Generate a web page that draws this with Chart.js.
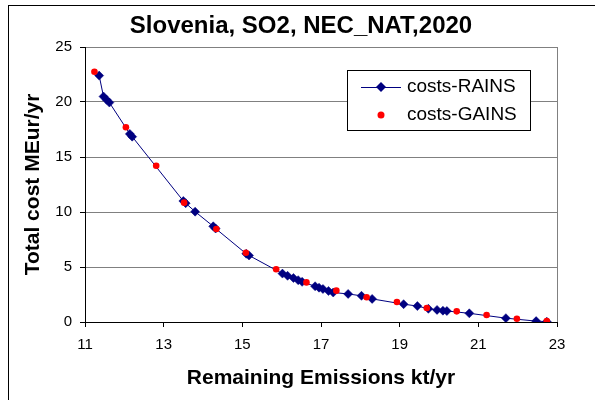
<!DOCTYPE html>
<html>
<head>
<meta charset="utf-8">
<script src="https://cdn.jsdelivr.net/npm/chart.js@4"></script>
<style>
  body { margin: 0; background: #fff; }
</style>
</head>
<body>
<canvas id="costChart" width="595" height="400"></canvas>
<script>
const rainsX = [11.36, 11.47, 11.55, 11.62, 12.14, 12.2, 13.5, 13.56, 13.8, 14.26, 14.32, 15.1, 15.17, 16.02, 16.15, 16.3, 16.42, 16.52, 16.85, 16.95, 17.05, 17.19, 17.31, 17.69, 18.03, 18.3, 19.1, 19.45, 19.73, 19.95, 20.1, 20.2, 20.77, 21.7, 22.47, 22.74];
const rainsY = [22.4, 20.5, 20.2, 19.95, 17.1, 16.85, 11.0, 10.8, 10.03, 8.7, 8.5, 6.2, 6.05, 4.4, 4.2, 4.0, 3.8, 3.65, 3.25, 3.12, 3.0, 2.82, 2.68, 2.55, 2.38, 2.1, 1.62, 1.45, 1.2, 1.1, 1.03, 1.0, 0.79, 0.35, 0.08, 0.03];
const gainsX = [11.24, 12.04, 12.81, 13.52, 14.34, 15.09, 15.86, 16.63, 17.39, 18.16, 18.93, 19.69, 20.45, 21.21, 21.98, 22.74];
const gainsY = [22.75, 17.7, 14.2, 10.85, 8.45, 6.3, 4.8, 3.6, 2.85, 2.25, 1.82, 1.27, 0.97, 0.64, 0.3, 0.08];
const xTicks = [11, 13, 15, 17, 19, 21, 23];
const yTicks = [0, 5, 10, 15, 20, 25];
const seriesNames = ['costs-RAINS', 'costs-GAINS'];

const FONT = "'Liberation Sans', Arial, sans-serif";
const NAVY = '#000080';
const RED = '#ff0000';

// fond blanc + cadre noir
const framePlugin = {
    id: 'frame',
    beforeDraw(chart) {
        const ctx = chart.ctx;
        ctx.save();
        ctx.fillStyle = '#fff';
        ctx.fillRect(0, 0, chart.width, chart.height);
        ctx.strokeStyle = '#000';
        ctx.lineWidth = 1;
        ctx.strokeRect(8.5, 5.5, chart.width, chart.height);
        ctx.restore();
    }
};

// bordure grise droite de la zone
const plotBorder = {
    id: 'plotBorder',
    beforeDatasetsDraw(chart) {
        const {ctx, chartArea} = chart;
        ctx.save();
        ctx.strokeStyle = '#808080';
        ctx.lineWidth = 1;
        ctx.beginPath();
        ctx.moveTo(Math.round(chartArea.right) + 0.5, chartArea.top);
        ctx.lineTo(Math.round(chartArea.right) + 0.5, chartArea.bottom);
        ctx.stroke();
        ctx.restore();
    }
};

// legende dessinee dans la zone
const boxLegend = {
    id: 'boxLegend',
    afterDraw(chart) {
        const ctx = chart.ctx;
        const x0 = 347, y0 = 70, w = 183, h = 60;
        ctx.save();
        ctx.fillStyle = '#fff';
        ctx.fillRect(x0, y0, w, h);
        ctx.strokeStyle = '#000';
        ctx.lineWidth = 1;
        ctx.strokeRect(x0 + 0.5, y0 + 0.5, w, h);

        // ligne + losange
        const ly = 87;
        ctx.strokeStyle = NAVY;
        ctx.beginPath();
        ctx.moveTo(361, ly + 0.5);
        ctx.lineTo(401, ly + 0.5);
        ctx.stroke();
        ctx.fillStyle = NAVY;
        ctx.beginPath();
        ctx.moveTo(381, ly - 5);
        ctx.lineTo(386, ly);
        ctx.lineTo(381, ly + 5);
        ctx.lineTo(376, ly);
        ctx.closePath();
        ctx.fill();

        // point rouge
        const gy = 115;
        ctx.fillStyle = RED;
        ctx.beginPath();
        ctx.arc(381, gy, 3.5, 0, Math.PI * 2);
        ctx.fill();

        ctx.fillStyle = '#000';
        ctx.font = '19px ' + FONT;
        ctx.textBaseline = 'middle';
        ctx.textAlign = 'left';
        ctx.fillText(seriesNames[0], 407, ly);
        ctx.fillText(seriesNames[1], 407, gy);
        ctx.restore();
    }
};

const ctx = document.getElementById('costChart').getContext('2d');

new Chart(ctx, {
    type: 'scatter',
    data: {
        datasets: [
            {
                label: seriesNames[0],
                data: rainsX.map((x, i) => ({x: x, y: rainsY[i]})),
                showLine: true,
                borderColor: NAVY,
                borderWidth: 1,
                backgroundColor: NAVY,
                pointStyle: 'rectRot',
                pointRadius: 4.5,
                pointBorderWidth: 0.5,
                pointBorderColor: NAVY,
                tension: 0,
                order: 1
            },
            {
                label: seriesNames[1],
                data: gainsX.map((x, i) => ({x: x, y: gainsY[i]})),
                showLine: false,
                backgroundColor: RED,
                borderColor: RED,
                pointStyle: 'circle',
                pointRadius: 3.3,
                pointBorderWidth: 0,
                order: 0
            }
        ]
    },
    options: {
        responsive: false,
        animation: false,
        layout: { padding: { left: 7, right: 0, top: 0, bottom: 0 } },
        plugins: {
            legend: { display: false },
            tooltip: { enabled: false },
            title: {
                display: true,
                text: 'Slovenia, SO2, NEC_NAT,2020',
                color: '#000',
                font: { family: FONT, size: 24, weight: 'bold' },
                padding: { top: 12, bottom: 6.2 }
            }
        },
        scales: {
            x: {
                type: 'linear',
                min: 11,
                max: 23,
                afterBuildTicks: s => { s.ticks = xTicks.map(v => ({value: v})); },
                afterFit: s => { s.height = 78; },
                ticks: {
                    color: '#000',
                    font: { family: FONT, size: 15 },
                    padding: 9,
                    maxRotation: 0
                },
                grid: {
                    drawOnChartArea: false,
                    drawTicks: true,
                    tickLength: 5,
                    tickColor: '#000'
                },
                border: { color: '#000', width: 1 },
                title: {
                    display: true,
                    text: 'Remaining Emissions kt/yr',
                    color: '#000',
                    font: { family: FONT, size: 21, weight: 'bold' },
                    padding: { top: 0, bottom: 9 }
                }
            },
            y: {
                type: 'linear',
                position: 'left',
                min: 0,
                max: 25,
                afterBuildTicks: s => { s.ticks = yTicks.map(v => ({value: v})); },
                afterFit: s => { s.width = 78; },
                ticks: {
                    color: '#000',
                    font: { family: FONT, size: 15 },
                    padding: 8
                },
                grid: {
                    color: c => (c.tick && c.tick.value === 0) ? '#000' : '#808080',
                    tickColor: '#000',
                    tickLength: 5
                },
                border: { color: '#000', width: 1 },
                title: {
                    display: true,
                    text: 'Total cost MEur/yr',
                    color: '#000',
                    font: { family: FONT, size: 21, weight: 'bold' },
                    padding: { top: 13.4, bottom: 0 }
                }
            },
            y2: {
                type: 'linear',
                position: 'right',
                display: true,
                ticks: { display: false },
                grid: { display: false },
                border: { display: false },
                afterFit: s => { s.width = 38; }
            }
        }
    },
    plugins: [framePlugin, plotBorder, boxLegend]
});
</script>
</body>
</html>
